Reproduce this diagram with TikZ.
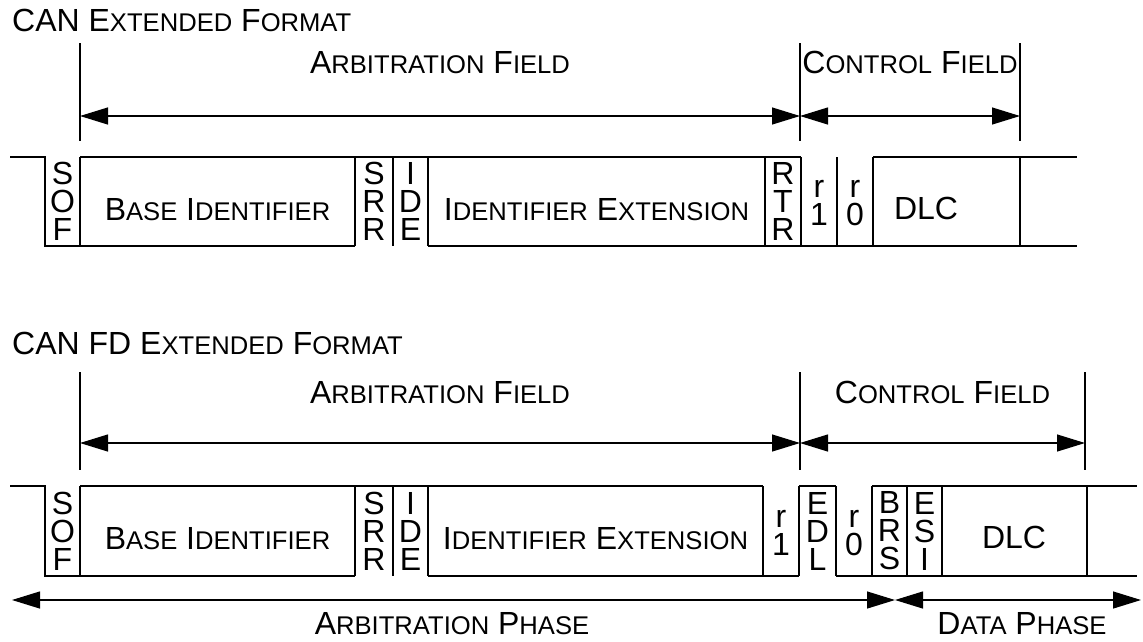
\documentclass[tikz,border=0pt]{standalone}
\usepackage{fontspec}
\setmainfont{Liberation Sans}
\usetikzlibrary{arrows.meta}
% reduced capitals for the small-caps look
\newcommand{\Sm}[1]{{\fontsize{25.6pt}{32pt}\selectfont #1}}
\tikzset{
  wave/.style={line width=1.4pt, line join=miter},
  marker/.style={line width=1.2pt},
  span/.style={line width=1.2pt,
    {Triangle[length=28pt,width=17pt]}-{Triangle[length=28pt,width=17pt]}},
  lbl/.style={inner sep=0pt, anchor=base, font=\fontsize{32pt}{32pt}\selectfont},
  ttl/.style={inner sep=0pt, anchor=base west, font=\fontsize{32pt}{32pt}\selectfont},
  stack/.style={inner sep=0pt, align=center, font=\fontsize{32pt}{28pt}\selectfont}
}
\begin{document}
\begin{tikzpicture}[x=1pt,y=-1pt]
\useasboundingbox (0,0) rectangle (1143,641);

% ---------------- CAN extended frame ----------------
\node[ttl] (title1) at (12,31) {CAN E\Sm{XTENDED} F\Sm{ORMAT}};

\coordinate (a1t) at (80,43);   \coordinate (a1b) at (80,141);
\coordinate (c1t) at (800,43);  \coordinate (c1b) at (800,141);
\coordinate (d1t) at (1020,43); \coordinate (d1b) at (1020,141);
\coordinate (a1m) at (80,116);  \coordinate (c1m) at (800,116);
\coordinate (d1m) at (1020,116);
\draw[marker] (a1t) -- (a1b);
\draw[marker] (c1t) -- (c1b);
\draw[marker] (d1t) -- (d1b);
\draw[span] (a1m) -- (c1m);
\draw[span] (c1m) -- (d1m);
\node[lbl] (arb1) at (440,73) {A\Sm{RBITRATION} F\Sm{IELD}};
\node[lbl] (ctl1) at (910,73) {C\Sm{ONTROL} F\Sm{IELD}};

% bit stream
\draw[wave] (10,157) -- (45,157) -- (45,246) -- (355,246);
\draw[wave] (428,246) -- (1077,246);
\draw[wave] (80,157) -- (801,157);
\draw[wave] (873,157) -- (1077,157);
\foreach \x in {80,355,393,428,765,801,837,873,1020}
  \draw[wave] (\x,157) -- (\x,246);

\node[stack] (sof1) at (62.5,201.5) {S\\O\\F};
\node[lbl] (base1) at (217.5,220) {B\Sm{ASE} I\Sm{DENTIFIER}};
\node[stack] (srr1) at (374,201.5) {S\\R\\R};
\node[stack] (ide1) at (410.5,201.5) {I\\D\\E};
\node[lbl] (ext1) at (596.5,220) {I\Sm{DENTIFIER} E\Sm{XTENSION}};
\node[stack] (rtr1) at (783,201.5) {R\\T\\R};
\node[stack] (ra1) at (819,203) {r\\1};
\node[stack] (rb1) at (855,203) {r\\0};
\node[lbl] (dlc1) at (926,219) {DLC};

% ---------------- CAN FD extended frame ----------------
\node[ttl] (title2) at (12,354) {CAN FD E\Sm{XTENDED} F\Sm{ORMAT}};

\coordinate (a2t) at (80,372);   \coordinate (a2b) at (80,470);
\coordinate (c2t) at (800,372);  \coordinate (c2b) at (800,470);
\coordinate (d2t) at (1085,372); \coordinate (d2b) at (1085,470);
\coordinate (a2m) at (80,443);   \coordinate (c2m) at (800,443);
\coordinate (d2m) at (1085,443);
\draw[marker] (a2t) -- (a2b);
\draw[marker] (c2t) -- (c2b);
\draw[marker] (d2t) -- (d2b);
\draw[span] (a2m) -- (c2m);
\draw[span] (c2m) -- (d2m);
\node[lbl] (arb2) at (440,403) {A\Sm{RBITRATION} F\Sm{IELD}};
\node[lbl] (ctl2) at (942.5,403) {C\Sm{ONTROL} F\Sm{IELD}};

% bit stream
\draw[wave] (10,486) -- (45,486) -- (45,576) -- (355,576);
\draw[wave] (428,576) -- (799,576);
\draw[wave] (836,576) -- (1137,576);
\draw[wave] (80,486) -- (763,486);
\draw[wave] (799,486) -- (836,486);
\draw[wave] (872,486) -- (1137,486);
\foreach \x in {80,355,393,428,763,799,836,872,907,942,1087}
  \draw[wave] (\x,486) -- (\x,576);

\node[stack] (sof2) at (62.5,531) {S\\O\\F};
\node[lbl] (base2) at (217.5,549) {B\Sm{ASE} I\Sm{DENTIFIER}};
\node[stack] (srr2) at (374,531) {S\\R\\R};
\node[stack] (ide2) at (410.5,531) {I\\D\\E};
\node[lbl] (ext2) at (595.5,549) {I\Sm{DENTIFIER} E\Sm{XTENSION}};
\node[stack] (ra2) at (781,533) {r\\1};
\node[stack] (edl2) at (817.5,531) {E\\D\\L};
\node[stack] (rb2) at (854,533) {r\\0};
\node[stack] (brs2) at (889.5,531) {B\\R\\S};
\node[stack] (esi2) at (924.5,531) {E\\S\\I};
\node[lbl] (dlc2) at (1014,548) {DLC};

% phases
\coordinate (ph0) at (12,600);
\coordinate (ph1) at (895,600);
\coordinate (ph2) at (1141,600);
\draw[span] (ph0) -- (ph1);
\draw[span] (ph1) -- (ph2);
\node[lbl] (arbph) at (452,634) {A\Sm{RBITRATION} P\Sm{HASE}};
\node[lbl] (datph) at (1022,634) {D\Sm{ATA} P\Sm{HASE}};
\end{tikzpicture}
\end{document}
